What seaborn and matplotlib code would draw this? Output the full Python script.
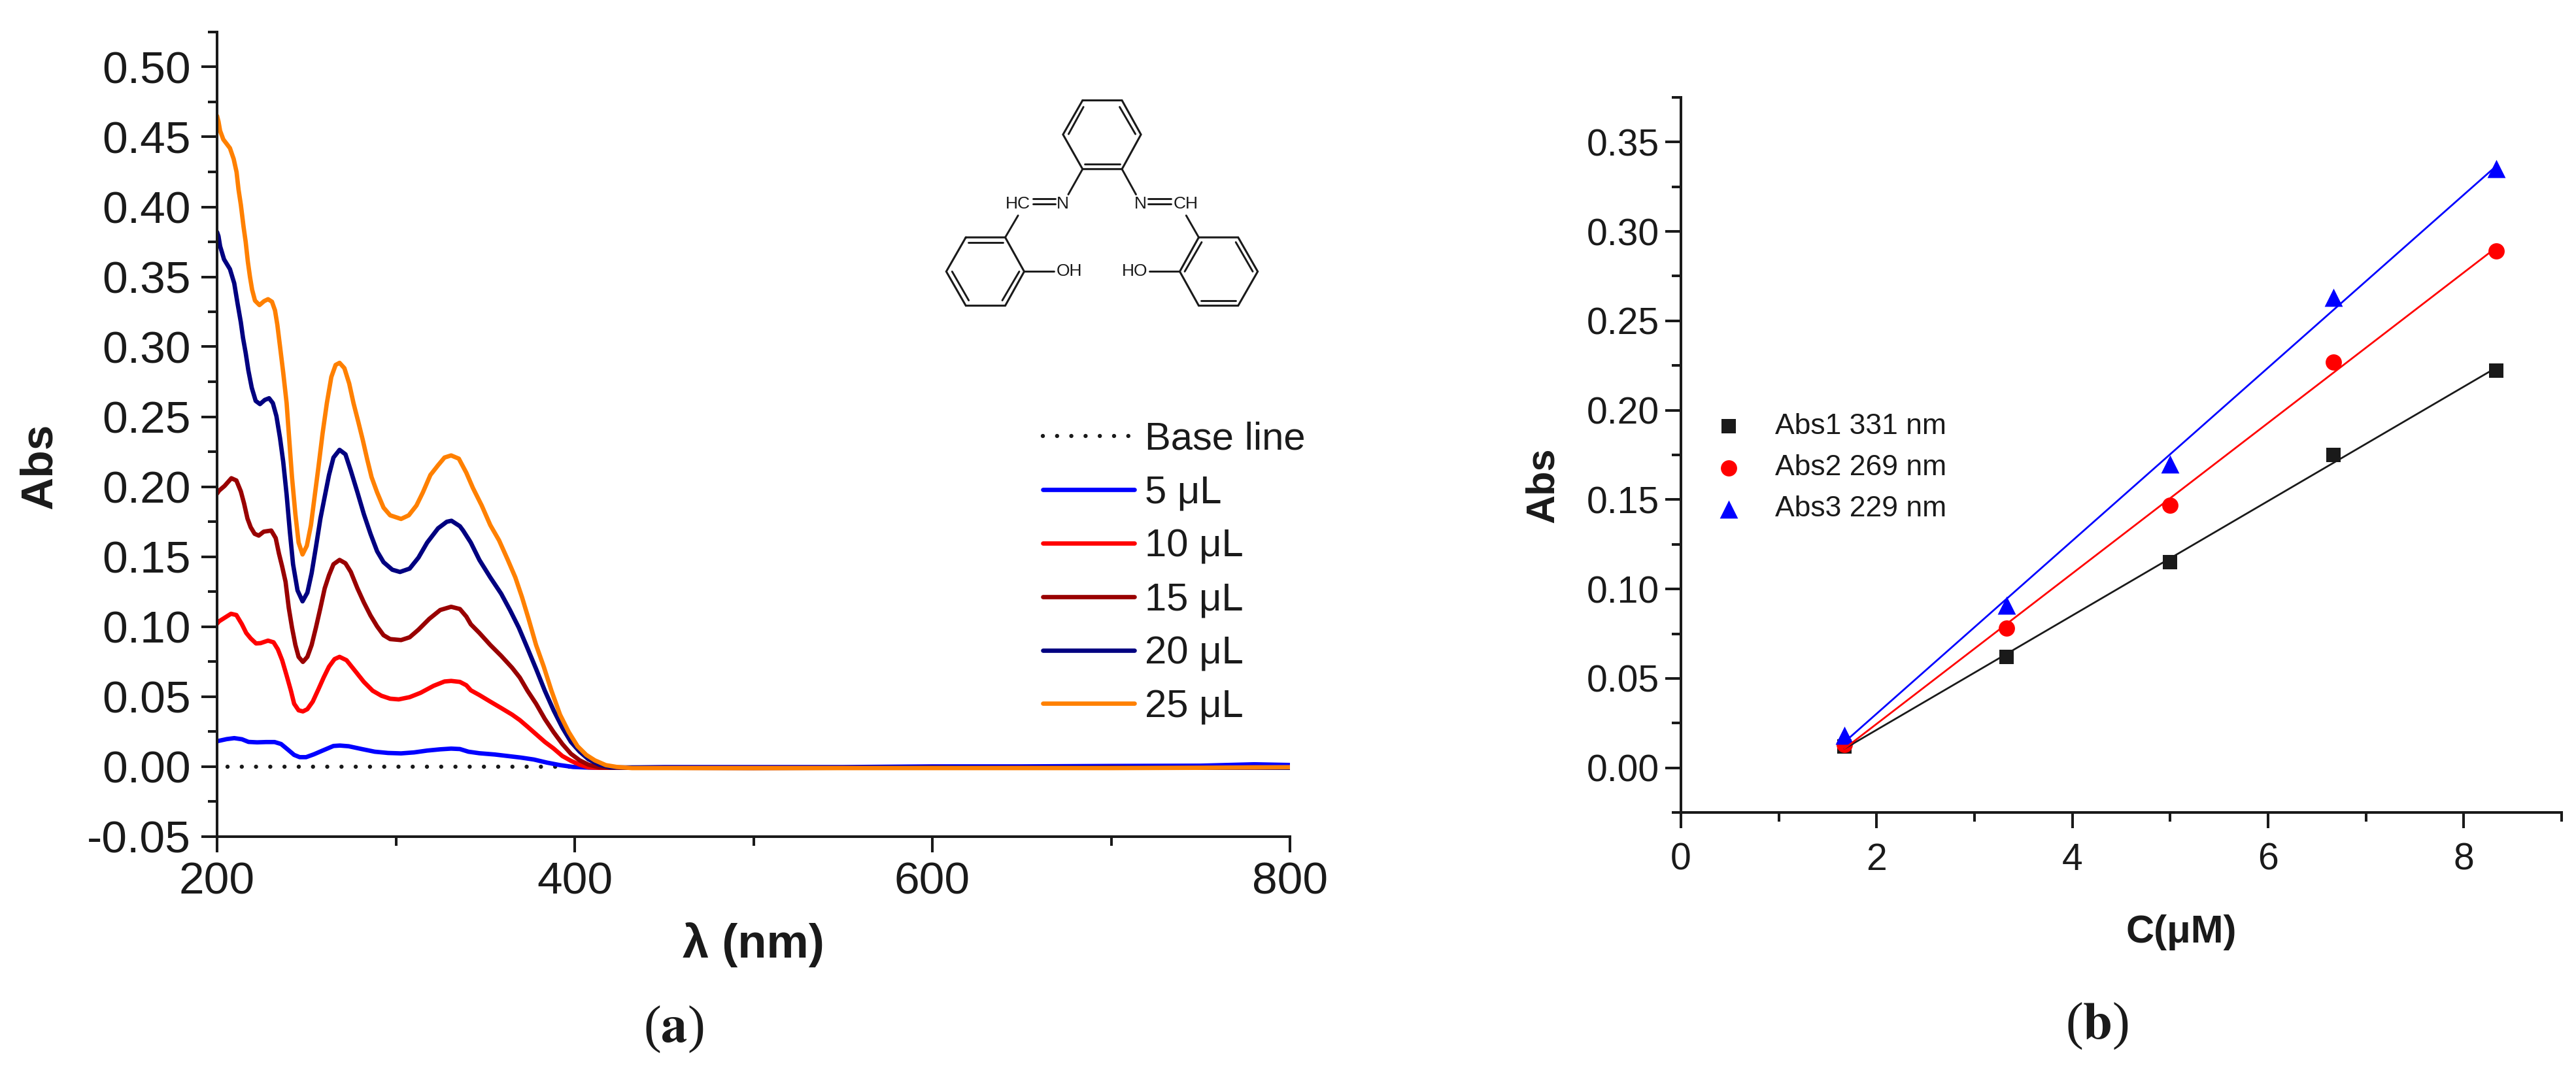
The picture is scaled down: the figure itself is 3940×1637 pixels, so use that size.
import matplotlib
matplotlib.use('Agg')
import matplotlib.pyplot as plt
from matplotlib.ticker import MultipleLocator, FormatStrFormatter
import pandas as pd
import seaborn as sns

W, H = 3940, 1637

# (a) spectra, each curve has its own nm list
tail_nm = [450, 500, 550, 600, 650, 700, 750, 780, 800]

nm_5 = [200, 201.1, 205.4, 209.6, 213.9, 217.6, 222.4, 227.3, 232.2, 235.8, 239.5, 243.1, 246.2, 249.8,
        254.1, 259, 265.1, 268.7, 273.6, 280.9, 288.2, 295.6, 302.9, 310.2, 317.5, 324.8, 330.9, 335.8,
        340.6, 346.7, 355.3, 362.6, 369.9, 377.2, 384.5, 391.8, 399.1, 406.5, 413.8] + tail_nm
abs_5 = [.018, .0183, .0195, .0202, .0194, .0175, .0172, .0174, .0174, .016, .0121, .0082, .0066, .0066,
         .0086, .0113, .0146, .0149, .0144, .0124, .0105, .0096, .0093, .010, .0113, .0122, .0127, .0124,
         .0105, .0094, .0085, .0074, .0063, .0049, .0027, .0009, -.0004, -.0008, -.001,
         -.0005, -.0005, -.0005, 0, 0, .0003, .0005, .0015, .001]

nm_10 = [200, 201.1, 204.8, 207.8, 210.8, 213.9, 216.3, 218.8, 221.8, 224.3, 228.5, 231.6, 234, 236.4,
         238.9, 241.3, 243.1, 245.6, 248, 250.5, 253.5, 256.6, 259.6, 262.6, 265.7, 268.5, 272.4, 277.3,
         282.1, 287, 291.9, 296.8, 301.6, 307.7, 313.8, 321.1, 327.2, 330.9, 335.8, 339.4, 341.9, 346.7,
         352.8, 358.9, 365, 369.3, 373.6, 378.4, 383.3, 388.2, 393.1, 397.9, 402.8, 407.7, 413.8] + tail_nm
abs_10 = [.102, .1037, .1067, .1091, .1082, .1016, .0954, .0915, .0879, .0881, .0899, .0887, .0837, .0759,
          .065, .0541, .0448, .0401, .0393, .0409, .0463, .0549, .0635, .0713, .0767, .0783, .0759, .0681,
          .0604, .0541, .0505, .0484, .0479, .0495, .0526, .0576, .0607, .0611, .0604, .058, .0544, .051,
          .0463, .0417, .037, .0331, .0284, .023, .0175, .0128, .0074, .004, .0012, -.0007, -.001,
          -.001, -.001, -.001, -.0008, -.001, -.0008, -.001, -.0008, -.001]

nm_15 = [200, 201.1, 204.2, 208, 210.8, 213.3, 215.1, 217, 218.8, 221, 223.3, 226.1, 230.3, 232.8, 234.6,
         236.4, 238.3, 240.1, 241.9, 243.8, 245.6, 248, 250.5, 252.9, 255.3, 257.8, 260.2, 262.6, 265.1,
         268.5, 271.8, 274.8, 278.5, 282.1, 285.8, 289.5, 293.1, 296.8, 302.9, 307.7, 312.6, 318.7, 324.8,
         330.9, 335.8, 339.4, 341.9, 346.7, 352.8, 358.9, 365, 369.3, 373.6, 378.4, 383.3, 388.2, 393.1,
         397.9, 402.8, 407.7, 413.8, 419.9] + tail_nm
abs_15 = [.195, .1971, .2005, .206, .2044, .1966, .188, .1772, .171, .1663, .165, .1678, .1686, .1632, .1522,
          .1429, .132, .1133, .0993, .0868, .0783, .0747, .0783, .0868, .0993, .1133, .1273, .1367, .1445,
          .1476, .1452, .139, .1273, .1172, .1079, .1001, .0938, .091, .0903, .0923, .0977, .1055, .1118,
          .1141, .1125, .1071, .1016, .0954, .0868, .079, .0705, .0635, .0541, .0448, .0339, .0245, .016,
          .009, .0043, .0012, -.0007, -.001,
          -.001, -.0012, -.001, -.0008, -.001, -.0008, -.001, -.0008, -.001]

nm_20 = [200, 200.8, 201.7, 203.9, 207.2, 209.6, 211.4, 213.3, 214.5, 216, 217.5, 219.4, 221.6, 224, 226.7,
         229.1, 231.2, 233.2, 235.2, 237, 238.9, 240.7, 242.5, 245, 247.8, 250.5, 252.9, 255.3, 257.8,
         260.2, 262.6, 265.1, 268.5, 271.8, 274.8, 278.5, 282.1, 285.8, 289.5, 293.1, 298, 302.3, 307.7,
         312.6, 317.5, 323.6, 328.5, 331.1, 335.8, 337.6, 341.9, 346.7, 352.8, 358.9, 363.8, 368.7, 373.6,
         378.4, 383.3, 388.2, 393.1, 397.9, 402.8, 407.7, 413.8, 419.9] + tail_nm
abs_20 = [.382, .379, .3719, .3625, .3555, .3454, .3314, .3174, .3064, .2956, .2831, .2707, .2613, .259, .262,
          .2632, .2597, .2504, .2348, .2177, .1943, .1679, .1445, .1258, .118, .1242, .1382, .1569, .1772,
          .1928, .2083, .2208, .2263, .2231, .2114, .1959, .1803, .1663, .1538, .146, .1406, .139, .1414,
          .1492, .16, .1702, .1749, .1756, .1717, .1686, .16, .1476, .1351, .1234, .1118, .0993, .0845,
          .0697, .0541, .0401, .0277, .0175, .0105, .0051, .0012, -.0007,
          -.001, -.001, -.001, -.0008, -.001, -.0008, -.001, -.0008, -.001]

nm_25 = [200, 200.8, 201.7, 203.5, 207.2, 209.3, 210.9, 212, 213.3, 214.8, 216, 217.2, 218.4, 219.6, 221.2,
         223.7, 226.3, 228.5, 230.7, 232.4, 233.7, 235.2, 237, 238.9, 240.3, 241.9, 243.8, 245.6, 247.8,
         250.2, 252.5, 254.7, 256.6, 259, 261.4, 263.9, 266.3, 268.5, 271.2, 273.9, 276.3, 279.1, 281.5,
         284, 286.4, 289.5, 293.1, 296.8, 302.9, 307.2, 311.5, 315.1, 319.3, 323.6, 327.2, 330.9, 335.2,
         339.4, 343.1, 348, 352.8, 357.7, 362.6, 366.8, 370.5, 374.2, 378.4, 382.7, 387, 391.8, 396.7,
         401.6, 406.5, 411.3, 417.4, 423.5, 432] + tail_nm
abs_25 = [.465, .461, .4544, .4482, .442, .4342, .4249, .4124, .4015, .3859, .375, .361, .350, .3408, .333,
          .3298, .3326, .334, .3322, .326, .3158, .3003, .2815, .2597, .2348, .2068, .1803, .16, .1515,
          .1577, .1725, .1943, .213, .238, .2597, .2784, .287, .2885, .2847, .2737, .2597, .2457, .2333,
          .2193, .2068, .1959, .185, .1795, .1769, .1795, .1865, .1959, .2083, .2153, .2208, .2223, .22,
          .2099, .199, .1865, .1725, .1616, .1476, .1351, .1211, .1055, .0868, .0713, .0541, .037, .0245,
          .0144, .0082, .0043, .0009, -.0004, -.0012,
          -.0012, -.0012, -.0012, -.0012, -.0012, -.0012, -.001, -.0007, -.0006]

base_x = [206, 420]
base_y = [0, 0]
spectra = [('5 μL', nm_5, abs_5, '#0000FF'), ('10 μL', nm_10, abs_10, '#FF0000'),
           ('15 μL', nm_15, abs_15, '#990000'), ('20 μL', nm_20, abs_20, '#000080'),
           ('25 μL', nm_25, abs_25, '#FF8000')]

# (b) calibration
conc = [1.67, 3.33, 5.0, 6.67, 8.33]
abs1_331 = [.012, .062, .115, .175, .222]
abs2_269 = [.013, .078, .147, .227, .289]
abs3_229 = [.018, .091, .170, .263, .335]

# molecule sketch, drawn in its own little axes
rings = [[(685, 80), (820, 80), (885, 158), (820, 237), (685, 237), (618, 158), (685, 80)],
         [(285, 393), (420, 393), (485, 471), (420, 549), (285, 549), (218, 471), (285, 393)],
         [(1083, 393), (1218, 393), (1285, 471), (1218, 549), (1083, 549), (1018, 471), (1083, 393)]]
bonds = [((688, 95), (637, 157)), ((812, 95), (866, 157)), ((692, 226), (812, 226)),
         ((293, 404), (412, 404)), ((238, 471), (295, 537)), ((410, 537), (468, 471)),
         ((1210, 404), (1268, 471)), ((1090, 537), (1210, 537)), ((1035, 471), (1093, 404)),
         ((685, 237), (636, 295)), ((820, 237), (868, 295)),
         ((515, 304), (592, 304)), ((515, 317), (592, 317)),
         ((910, 304), (988, 304)), ((910, 317), (988, 317)),
         ((464, 343), (420, 393)), ((1040, 343), (1083, 393)),
         ((485, 471), (587, 471)), ((915, 471), (1018, 471))]
atoms = [('HC', 464, 316), ('N', 617, 316), ('N', 884, 316), ('CH', 1038, 316),
         ('OH', 640, 471), ('HO', 864, 471)]

sns.set_theme(style='ticks')
plt.rcParams['font.family'] = ['Liberation Sans', 'DejaVu Sans']
plt.rcParams['mathtext.fontset'] = 'stix'
plt.rcParams['text.color'] = 'k'
plt.rcParams['axes.labelcolor'] = 'k'
plt.rcParams['axes.edgecolor'] = 'k'


def axes_px(fig, left, top, right, bottom):
    return fig.add_axes([left / W, 1 - bottom / H, (right - left) / W, (bottom - top) / H])


def style_axes(ax, tick_size, pad_x, pad_y):
    sns.despine(ax=ax)
    for side in ['left', 'bottom']:
        ax.spines[side].set_linewidth(2.9)
    ax.tick_params(which='major', length=17, width=2.9, labelsize=tick_size, color='k', labelcolor='k')
    ax.tick_params(which='minor', length=10, width=2.9, color='k')
    ax.tick_params(axis='x', which='major', pad=pad_x)
    ax.tick_params(axis='y', which='major', pad=pad_y)


fig = plt.figure(figsize=(W / 100, H / 100), dpi=100)

# ---- panel a
ax1 = axes_px(fig, 332, 49, 1973, 1279.5)
sns.lineplot(x=base_x, y=base_y, ax=ax1, color='k', linewidth=4.6, label='Base line')
ax1.lines[-1].set_linestyle((0, (0.01, 3.4)))
ax1.lines[-1].set_dash_capstyle('round')
for name, nm, values, col in spectra:
    df = pd.DataFrame({'nm': nm, 'abs': values})
    sns.lineplot(data=df, x='nm', y='abs', ax=ax1, color=col, linewidth=4.8, label=name, estimator=None)
ax1.set_xlim(200, 800)
ax1.set_ylim(-0.05, 0.525)
ax1.xaxis.set_major_locator(MultipleLocator(200))
ax1.xaxis.set_minor_locator(MultipleLocator(100))
ax1.yaxis.set_major_locator(MultipleLocator(0.05))
ax1.yaxis.set_minor_locator(MultipleLocator(0.025))
ax1.yaxis.set_major_formatter(FormatStrFormatter('%.2f'))
style_axes(ax1, 50, 10, 12)
ax1.set_xlabel('λ (nm)', fontsize=52, fontweight='bold', va='center', ha='center')
ax1.xaxis.set_label_coords(0.4997, (1279.5 - 1445) / 1230.5)
ax1.set_ylabel('Abs', fontsize=50, fontweight='bold', va='center', ha='center')
ax1.yaxis.set_label_coords((61 - 332) / 1641, (1279.5 - 713) / 1230.5)
ax1.legend(loc='upper left', bbox_to_anchor=((1595 - 332) / 1641, (1279.5 - 645) / 1230.5),
           frameon=False, fontsize=43, handlelength=2.34, handletextpad=0.28,
           labelspacing=0.45, borderpad=0, borderaxespad=0, labelcolor='k')

# molecule
mol = axes_px(fig, 1350, 100, 2050, 1150)
mol.set_xlim(0, 1568)
mol.set_ylim(1568, 0)
mol.axis('off')
mol.patch.set_alpha(0)
for ring in rings:
    mol.plot([p[0] for p in ring], [p[1] for p in ring], color='k', lw=2.2, solid_joinstyle='miter')
for a, b in bonds:
    mol.plot([a[0], b[0]], [a[1], b[1]], color='k', lw=2.1)
for txt, x, y in atoms:
    mol.text(x, y, txt, fontsize=19, ha='center', va='center', color='k')

# ---- panel b
ax2 = axes_px(fig, 2571, 149, 3918, 1243)
for vals, col, mk, size, name in [(abs1_331, 'k', 's', 250, 'Abs1 331 nm'),
                                  (abs2_269, '#FF0000', 'o', 320, 'Abs2 269 nm'),
                                  (abs3_229, '#0000FF', '^', 400, 'Abs3 229 nm')]:
    sns.regplot(x=conc, y=vals, ax=ax2, ci=None, truncate=True, color=col, marker=mk, label=name,
                scatter_kws={'s': size, 'alpha': 1, 'linewidths': 0},
                line_kws={'linewidth': 2.0})
ax2.set_xlim(0, 9)
ax2.set_ylim(-0.025, 0.375)
ax2.xaxis.set_major_locator(MultipleLocator(2))
ax2.xaxis.set_minor_locator(MultipleLocator(1))
ax2.yaxis.set_major_locator(MultipleLocator(0.05))
ax2.yaxis.set_minor_locator(MultipleLocator(0.025))
ax2.yaxis.set_major_formatter(FormatStrFormatter('%.2f'))
style_axes(ax2, 41, 16, 6.5)
ax2.set_xlabel('C(μM)', fontsize=43, fontweight='bold', va='center', ha='center')
ax2.xaxis.set_label_coords((3336 - 2571) / 1347, (1243 - 1426) / 1094)
ax2.set_ylabel('Abs', fontsize=44, fontweight='bold', va='center', ha='center')
ax2.yaxis.set_label_coords((2360 - 2571) / 1347, (1243 - 742) / 1094)
ax2.legend(ax2.collections[:3], ['Abs1 331 nm', 'Abs2 269 nm', 'Abs3 229 nm'], loc='upper left',
           bbox_to_anchor=((2622 - 2571) / 1347, (1243 - 632) / 1094), frameon=False, fontsize=32,
           scatterpoints=1, handlelength=1.0, handletextpad=1.1, labelspacing=0.5,
           borderpad=0, borderaxespad=0, labelcolor='k')

# panel letters
fig.text(1030 / W, 1 - 1575 / H, r'($\mathbf{a}$)', fontsize=58, ha='center', va='center',
         family='Liberation Serif', color='k')
fig.text(3207 / W, 1 - 1570 / H, r'($\mathbf{b}$)', fontsize=58, ha='center', va='center',
         family='Liberation Serif', color='k')

fig.savefig('out.png', dpi=100, facecolor='white')
